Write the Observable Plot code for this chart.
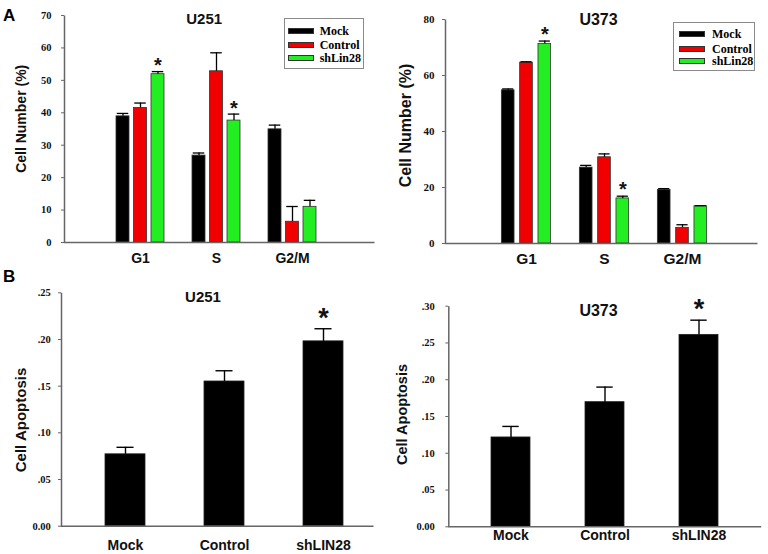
<!DOCTYPE html>
<html><head><meta charset="utf-8">
<script src="https://cdn.jsdelivr.net/npm/d3@7"></script>
<script src="https://cdn.jsdelivr.net/npm/@observablehq/plot@0.6"></script>
<style>
body{margin:0;background:#fff}
#root{position:relative;width:768px;height:554px;overflow:hidden;background:#fff}
.panel{position:absolute}
.letter{position:absolute;font:bold 17px "Liberation Sans",Arial,sans-serif;line-height:1}
.legend{position:absolute;border:1px solid #8a8a8a;box-sizing:border-box;background:#fff}
.legend .sw{position:absolute;height:6px;width:26px;box-sizing:border-box;border:1px solid #333}
.legend .lb{position:absolute;font:bold 12px "Liberation Serif","Times New Roman",serif;line-height:1;transform:translateY(-50%);white-space:nowrap}
</style></head><body><div id="root"></div>
<script>
// ---------- data ----------
const phases = ["G1", "S", "G2/M"];
const cycleSeries = ["Mock", "Control", "shLin28"];
const seriesColors = ["#000000", "#f00000", "#22ee22"];

const u251CycleMock = [38.9, 26.8, 34.9];
const u251CycleMockErr = [0.9, 0.8, 1.3];
const u251CycleControl = [41.5, 52.8, 6.4];
const u251CycleControlErr = [1.5, 5.7, 4.7];
const u251CycleShLin = [51.9, 37.6, 11.0];
const u251CycleShLinErr = [0.8, 2.0, 2.0];
const u251CycleShLinStar = [true, true, false];

const u373CycleMock = [54.7, 27.1, 19.1];
const u373CycleMockErr = [0.5, 0.8, 0.5];
const u373CycleControl = [64.6, 30.8, 5.6];
const u373CycleControlErr = [0.3, 1.2, 1.1];
const u373CycleShLin = [71.3, 16.1, 13.3];
const u373CycleShLinErr = [1.0, 0.8, 0.2];
const u373CycleShLinStar = [true, true, false];

const apopGroups = ["Mock", "Control", "shLIN28"];
const u251Apop = [0.077, 0.155, 0.198];
const u251ApopErr = [0.0075, 0.0115, 0.0135];
const u251ApopStar = [false, false, true];
const u373Apop = [0.1215, 0.1695, 0.261];
const u373ApopErr = [0.015, 0.0205, 0.020];
const u373ApopStar = [false, false, true];

const u251CycleTicks = [0, 10, 20, 30, 40, 50, 60, 70];
const u373CycleTicks = [0, 20, 40, 60, 80];
const u251ApopTicks = [0, 0.05, 0.10, 0.15, 0.20, 0.25];
const u373ApopTicks = [0, 0.05, 0.10, 0.15, 0.20, 0.25, 0.30];

// ---------- helpers ----------
const SANS = "Liberation Sans, Arial, sans-serif";
const SERIF = "Liberation Serif, Times New Roman, serif";
const root = document.getElementById("root");

function place(el, left, top) {
  const d = document.createElement("div");
  d.className = "panel";
  d.style.left = left + "px";
  d.style.top = top + "px";
  d.appendChild(el);
  root.appendChild(d);
}

function axisMarks(o, w, h) {
  return [
    Plot.frame({stroke: "#666", strokeWidth: 1.5, strokeDasharray: `0 ${w + h} ${w + h}`}),
    Plot.axisY({ticks: o.yTicks, tickFormat: o.tickFormat, tickSize: 3, tickPadding: o.tickPadding,
      stroke: "#666", fill: "#111", fontFamily: SERIF, fontWeight: "bold", fontSize: o.tickFont, label: null}),
    Plot.text([o.yLabel], {frameAnchor: "left", rotate: -90, text: d => d, textAnchor: "middle", lineAnchor: "middle",
      dx: o.yLabelDx, dy: o.yLabelDy, fontSize: o.yLabelFont, fontWeight: "bold", fontFamily: SANS, fill: "#111"}),
    Plot.text([o.title], {frameAnchor: "top", text: d => d, textAnchor: "middle", lineAnchor: "middle",
      dx: o.titleDx, dy: o.titleDy, fontSize: o.titleFont, fontWeight: "bold", fontFamily: SANS, fill: "#111"})
  ];
}

function cyclePanel(o) {
  const W = 384, H = 277;
  const w = W - o.ml - o.mr, h = H - o.mt - o.mb;
  const bw = (o.xRange[1] - o.xRange[0]) / phases.length;
  const marks = [];
  cycleSeries.forEach((s, si) => {
    const rows = phases.map((p, i) => ({phase: p, series: s, value: o.means[si][i], err: o.errs[si][i], star: o.stars[si] ? o.stars[si][i] : false}));
    const off = (si - 1) * o.barStep;
    const binL = bw / 2 - o.barW / 2 + off, binR = bw / 2 - o.barW / 2 - off;
    const cinL = bw / 2 - o.capW / 2 + off, cinR = bw / 2 - o.capW / 2 - off;
    marks.push(Plot.barY(rows, {x: "phase", y: "value", fill: seriesColors[si], stroke: "#333", strokeWidth: 0.8, insetLeft: binL, insetRight: binR}));
    marks.push(Plot.ruleX(rows, {x: "phase", y1: "value", y2: d => d.value + d.err, dx: off, stroke: "#000", strokeWidth: 1.3}));
    marks.push(Plot.tickY(rows, {x: "phase", y: d => d.value + d.err, insetLeft: cinL, insetRight: cinR, stroke: "#000", strokeWidth: 1.3}));
    marks.push(Plot.text(rows.filter(d => d.star), {x: "phase", y: d => d.value + d.err, text: () => "*", dx: off, dy: o.starDy,
      fontSize: o.starFont, fontWeight: "bold", fontFamily: SANS, fill: "#111", lineAnchor: "middle"}));
  });
  marks.push(Plot.text(phases, {x: d => d, text: d => d, frameAnchor: "bottom", lineAnchor: "middle", dy: o.xLabelDy,
    fontSize: o.xLabelFont, fontWeight: "bold", fontFamily: SANS, fill: "#111"}));
  return Plot.plot({
    width: W, height: H, marginLeft: o.ml, marginRight: o.mr, marginTop: o.mt, marginBottom: o.mb,
    style: {fontFamily: SANS, background: "transparent", overflow: "visible"},
    x: {type: "band", domain: phases, range: o.xRange, paddingInner: 0, paddingOuter: 0, axis: null},
    y: {domain: o.yDomain},
    marks: [...marks, ...axisMarks(o, w, h)]
  });
}

function apopPanel(o) {
  const W = 384, H = 277;
  const w = W - o.ml - o.mr, h = H - o.mt - o.mb;
  const rows = apopGroups.map((g, i) => ({group: g, value: o.values[i], err: o.errs[i], star: o.stars[i]}));
  const step = (o.xRange[1] - o.xRange[0]) / (apopGroups.length - o.pad);
  const bw = step * (1 - o.pad);
  const cin = (bw - o.capW) / 2;
  const marks = [
    Plot.barY(rows, {x: "group", y: "value", fill: "#000", stroke: "#222", strokeWidth: 0.8}),
    Plot.ruleX(rows, {x: "group", y1: "value", y2: d => d.value + d.err, stroke: "#000", strokeWidth: 1.4}),
    Plot.tickY(rows, {x: "group", y: d => d.value + d.err, inset: cin, stroke: "#000", strokeWidth: 1.4}),
    Plot.text(rows.filter(d => d.star), {x: "group", y: d => d.value + d.err, text: () => "*", dy: o.starDy,
      fontSize: o.starFont, fontWeight: "bold", fontFamily: SANS, fill: "#111", lineAnchor: "middle"}),
    Plot.text(apopGroups, {x: d => d, text: d => d, frameAnchor: "bottom", lineAnchor: "middle", dy: o.xLabelDy,
      fontSize: o.xLabelFont, fontWeight: "bold", fontFamily: SANS, fill: "#111"})
  ];
  return Plot.plot({
    width: W, height: H, marginLeft: o.ml, marginRight: o.mr, marginTop: o.mt, marginBottom: o.mb,
    style: {fontFamily: SANS, background: "transparent", overflow: "visible"},
    x: {type: "band", domain: apopGroups, range: o.xRange, paddingInner: o.pad, paddingOuter: 0, axis: null},
    y: {domain: o.yDomain},
    marks: [...marks, ...axisMarks(o, w, h)]
  });
}

const apopFormat = d => d === 0 ? "0.00" : d3.format(".2f")(d).replace(/^0/, "");

function legend(left, top, width, height, rowYs, swX, txtX) {
  const box = document.createElement("div");
  box.className = "legend";
  Object.assign(box.style, {left: left + "px", top: top + "px", width: width + "px", height: height + "px"});
  cycleSeries.forEach((s, i) => {
    const sw = document.createElement("div");
    sw.className = "sw";
    Object.assign(sw.style, {left: (swX - left - 1) + "px", top: (rowYs[i] - top - 1 - 3) + "px", background: seriesColors[i]});
    const lb = document.createElement("div");
    lb.className = "lb";
    lb.textContent = s;
    Object.assign(lb.style, {left: (txtX - left - 1) + "px", top: (rowYs[i] - top - 1) + "px"});
    box.appendChild(sw); box.appendChild(lb);
  });
  root.appendChild(box);
}

// ---------- panels ----------
place(cyclePanel({
  ml: 64, mr: 10, mt: 15, mb: 35, yDomain: [0, 70], yTicks: u251CycleTicks, tickFormat: d3.format("d"),
  tickFont: 10.5, tickPadding: 10,
  means: [u251CycleMock, u251CycleControl, u251CycleShLin],
  errs: [u251CycleMockErr, u251CycleControlErr, u251CycleShLinErr],
  stars: [null, null, u251CycleShLinStar],
  xRange: [101.5, 329.5], barW: 13, barStep: 17.5, capW: 11.5,
  yLabel: "Cell Number (%)", yLabelFont: 14, yLabelDx: -43.3, yLabelDy: -10.2,
  title: "U251", titleFont: 15, titleDx: -15.3, titleDy: 3.3,
  xLabelFont: 14, xLabelDy: 16, starFont: 20, starDy: -5.6
}), 0, 0);

place(cyclePanel({
  ml: 61, mr: 11, mt: 19, mb: 34, yDomain: [0, 80], yTicks: u373CycleTicks, tickFormat: d3.format("d"),
  tickFont: 11, tickPadding: 8,
  means: [u373CycleMock, u373CycleControl, u373CycleShLin],
  errs: [u373CycleMockErr, u373CycleControlErr, u373CycleShLinErr],
  stars: [null, null, u373CycleShLinStar],
  xRange: [102, 337], barW: 13, barStep: 18.3, capW: 11.5,
  yLabel: "Cell Number (%)", yLabelFont: 16, yLabelDx: -39.3, yLabelDy: -6,
  title: "U373", titleFont: 16, titleDx: -3, titleDy: 0.2,
  xLabelFont: 15.5, xLabelDy: 15.3, starFont: 20, starDy: -6.5
}), 384, 0);

place(apopPanel({
  ml: 61, mr: 11, mt: 15.3, mb: 28.3, yDomain: [0, 0.25], yTicks: u251ApopTicks, tickFormat: apopFormat,
  tickFont: 10.5, tickPadding: 7.7,
  values: u251Apop, errs: u251ApopErr, stars: u251ApopStar,
  xRange: [105, 343.3], pad: 0.597, capW: 17,
  yLabel: "Cell Apoptosis", yLabelFont: 15, yLabelDx: -40.3, yLabelDy: 10.5,
  title: "U251", titleFont: 15, titleDx: -14.5, titleDy: 4.7,
  xLabelFont: 14, xLabelDy: 19.6, starFont: 27, starDy: -10.7
}), 0, 277);

place(apopPanel({
  ml: 64.3, mr: 7.3, mt: 28.7, mb: 27.7, yDomain: [0, 0.30], yTicks: u373ApopTicks, tickFormat: apopFormat,
  tickFont: 10.5, tickPadding: 11,
  values: u373Apop, errs: u373ApopErr, stars: u373ApopStar,
  xRange: [106.7, 335], pad: 0.58, capW: 17,
  yLabel: "Cell Apoptosis", yLabelFont: 14.5, yLabelDx: -46, yLabelDy: -2,
  title: "U373", titleFont: 16, titleDx: -6.5, titleDy: 4.3,
  xLabelFont: 14, xLabelDy: 9, starFont: 27, starDy: -10.7
}), 384, 277);

// legends
legend(284, 18, 80, 51, [31, 44.7, 58], 288, 319.7);
legend(673, 22, 82, 49, [33.7, 48.7, 61.3], 679.3, 712);

// panel letters
[["A", 3, 6.7], ["B", 3, 267.7]].forEach(([t, x, y]) => {
  const d = document.createElement("div");
  d.className = "letter";
  d.textContent = t;
  d.style.left = x + "px"; d.style.top = y + "px";
  root.appendChild(d);
});
</script></body></html>
